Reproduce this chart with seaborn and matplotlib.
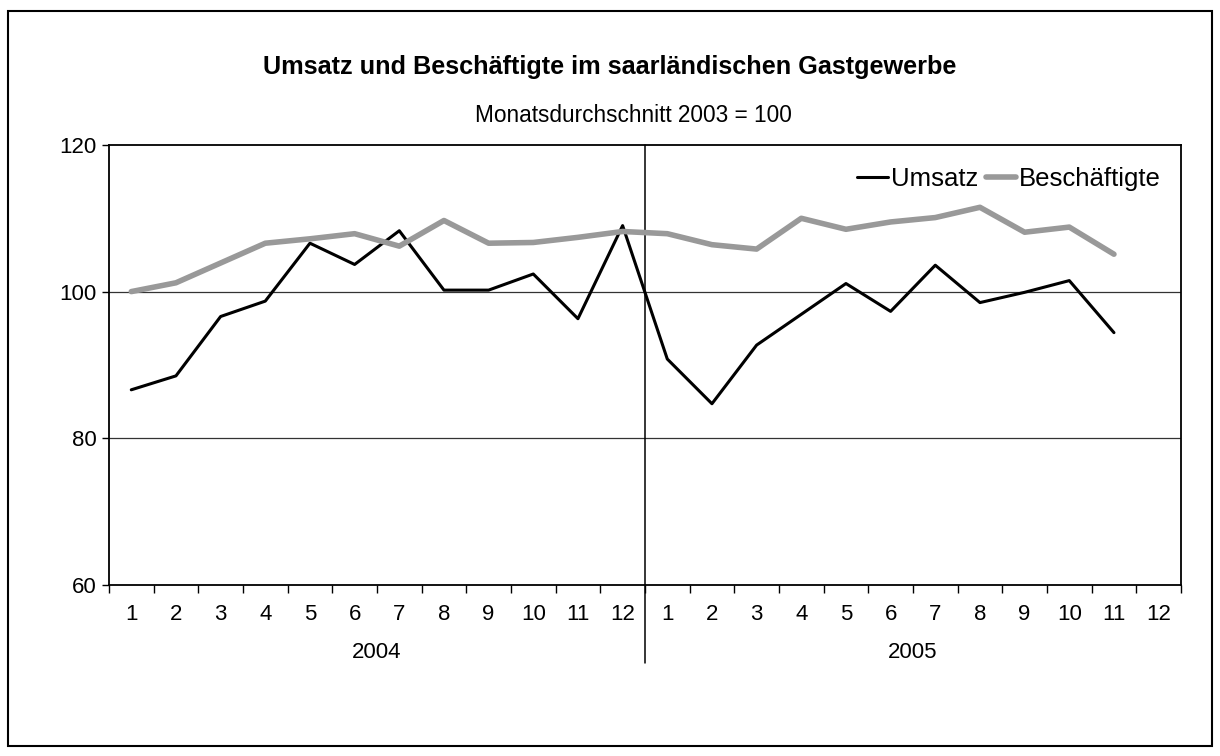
import numpy as np
import pandas as pd
import matplotlib
matplotlib.use("Agg")
import matplotlib.pyplot as plt
import seaborn as sns
from matplotlib.patches import Rectangle

# values (index, monthly average 2003 = 100)
years = ["2004", "2005"]
months = [str(m) for m in range(1, 13)]
umsatz = [86.6, 88.5, 96.6, 98.7, 106.6, 103.7, 108.3, 100.2, 100.2, 102.4, 96.3, 109.0,
          90.8, 84.7, 92.7, 96.9, 101.1, 97.3, 103.6, 98.5, 99.9, 101.5, 94.4]
beschaeftigte = [100.0, 101.2, 103.9, 106.6, 107.2, 107.9, 106.2, 109.7, 106.6, 106.7, 107.4, 108.2,
                 107.9, 106.4, 105.8, 110.0, 108.5, 109.5, 110.1, 111.5, 108.1, 108.8, 105.1]

def main():
    sns.set_style("white")
    plt.rcParams["font.family"] = ["Liberation Sans", "DejaVu Sans"]
    plt.rcParams["text.color"] = "black"
    plt.rcParams["xtick.color"] = "black"
    plt.rcParams["ytick.color"] = "black"

    df = pd.DataFrame({
        "pos": list(range(len(umsatz))) * 2,
        "wert": umsatz + beschaeftigte,
        "serie": ["Umsatz"] * len(umsatz) + ["Beschäftigte"] * len(beschaeftigte),
    })

    fig = plt.figure(figsize=(12.2, 7.56), dpi=100)
    ax = fig.add_axes([0.0893, 0.2265, 0.8787, 0.5817])

    sns.lineplot(data=df, x="pos", y="wert", hue="serie", size="serie",
                 palette={"Umsatz": "black", "Beschäftigte": "#999999"},
                 sizes={"Umsatz": 2.2, "Beschäftigte": 4.0},
                 hue_order=["Umsatz", "Beschäftigte"],
                 sort=False, ax=ax, zorder=3)

    n = len(years) * len(months)
    ax.set_xlim(-0.5, n - 0.5)
    ax.set_ylim(60, 120)
    ax.set_yticks([60, 80, 100, 120])
    ax.tick_params(axis="y", labelsize=16, length=5, width=1, direction="out", left=True, pad=4)

    # gridlines
    for yv in [80, 100]:
        ax.axhline(yv, color="#333333", lw=0.9, zorder=1)

    # category boundary ticks, month labels in between
    ax.set_xticks(np.arange(-0.5, n, 1.0))
    ax.set_xticklabels([])
    ax.tick_params(axis="x", which="major", length=6, width=1, direction="out", bottom=True)
    ax.set_xticks(np.arange(n), minor=True)
    ax.set_xticklabels(months * len(years), minor=True)
    ax.tick_params(axis="x", which="minor", length=0, labelsize=16, pad=14)

    for i, yr in enumerate(years):
        ax.text(i * 12 + 5.5, -0.153, yr, transform=ax.get_xaxis_transform(),
                ha="center", va="center", fontsize=16)
    ax.axvline(11.5, ymin=-0.178, ymax=1, color="black", lw=1.1, clip_on=False, zorder=2)

    for s in ax.spines.values():
        s.set_color("black")
        s.set_linewidth(1.3)

    ax.set_xlabel("")
    ax.set_ylabel("")

    ax.legend(loc="upper right", ncol=2, frameon=False, fontsize=18.5,
              handlelength=1.2, handletextpad=0.1, columnspacing=0.3,
              borderaxespad=0.3, bbox_to_anchor=(0.998, 0.99))

    fig.text(0.5, 0.912, "Umsatz und Beschäftigte im saarländischen Gastgewerbe",
             ha="center", va="center", fontsize=18.2, fontweight="bold")
    fig.text(0.519, 0.8466, "Monatsdurchschnitt 2003 = 100", ha="center", va="center", fontsize=16.3)

    fig.patches.append(Rectangle((0.0066, 0.013), 0.9868, 0.972, transform=fig.transFigure,
                                 fill=False, edgecolor="black", lw=1.5))

    fig.savefig("out.png", dpi=100)
    plt.close(fig)

if __name__ == "__main__":
    main()
